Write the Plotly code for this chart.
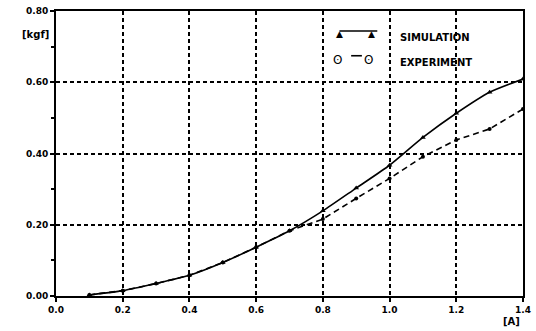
import plotly.graph_objects as go

current = [0.1, 0.2, 0.3, 0.4, 0.5, 0.6, 0.7, 0.8, 0.9, 1.0, 1.1, 1.2, 1.3, 1.4]
simulation = [0.003, 0.015, 0.035, 0.058, 0.094, 0.137, 0.183, 0.239, 0.303, 0.367, 0.445, 0.513, 0.572, 0.609]
experiment = [0.003, 0.015, 0.035, 0.058, 0.094, 0.137, 0.183, 0.216, 0.274, 0.330, 0.391, 0.438, 0.469, 0.525]

x_ticks = [0.0, 0.2, 0.4, 0.6, 0.8, 1.0, 1.2, 1.4]
x_labels = ["0.0", "0.2", "0.4", "0.6", "0.8", "1.0", "1.2", "1.4"]
y_ticks = [0.0, 0.2, 0.4, 0.6, 0.8]
y_labels = ["0.00", "0.20", "0.40", "0.60", "0.80"]

FONT = "DejaVu Sans"

fig = go.Figure()
fig.add_trace(go.Scatter(
    x=current, y=simulation, mode="lines+markers", name="SIMULATION",
    line=dict(color="black", width=1.6, shape="spline", smoothing=0.6),
    marker=dict(symbol="triangle-up", size=5, color="black"),
    showlegend=False,
))
fig.add_trace(go.Scatter(
    x=current, y=experiment, mode="lines+markers", name="EXPERIMENT",
    line=dict(color="black", width=1.6, dash="6px,4px"),
    marker=dict(symbol="circle", size=4, color="black"),
    showlegend=False,
))

axis_common = dict(
    showline=True, linecolor="black", linewidth=2, mirror=True, automargin=False,
    showgrid=True, gridcolor="black", gridwidth=1.5, griddash="4px,3px",
    zeroline=False, ticks="outside", ticklen=4, tickwidth=1.5, tickcolor="black",
    tickfont=dict(family=FONT, size=9, color="black", weight="bold"),
)

fig.update_xaxes(range=[0, 1.4], tickvals=x_ticks, ticktext=x_labels, **axis_common)
fig.update_yaxes(range=[0, 0.8], tickvals=y_ticks, ticktext=y_labels,
                 minor=dict(dtick=0.1, ticks="outside", ticklen=3, tickcolor="black", showgrid=False),
                 **axis_common)

# manual legend
leg_y = [0.93, 0.843]
fig.add_shape(type="line", xref="paper", yref="paper", x0=0.607, x1=0.688, y0=leg_y[0], y1=leg_y[0],
              line=dict(color="black", width=1.6))
fig.add_shape(type="line", xref="paper", yref="paper", x0=0.632, x1=0.655, y0=leg_y[1], y1=leg_y[1],
              line=dict(color="black", width=1.6))
for xp in (0.607, 0.688):
    fig.add_annotation(xref="paper", yref="paper", x=xp, y=leg_y[0], text="▲", showarrow=False,
                       yshift=4, font=dict(family=FONT, size=9, color="black"))
for xp in (0.602, 0.683):
    fig.add_annotation(xref="paper", yref="paper", x=xp, y=leg_y[1], text="ʘ", showarrow=False,
                       yshift=5, font=dict(family=FONT, size=12, color="black"))
fig.add_annotation(xref="paper", yref="paper", x=0.732, y=leg_y[0], text="SIMULATION", showarrow=False,
                   xanchor="left", yshift=1, font=dict(family=FONT, size=10, color="black", weight="bold"))
fig.add_annotation(xref="paper", yref="paper", x=0.732, y=leg_y[1], text="EXPERIMENT", showarrow=False,
                   xanchor="left", yshift=1, font=dict(family=FONT, size=10, color="black", weight="bold"))

# axis unit labels
fig.add_annotation(xref="paper", yref="paper", x=-0.01, y=0.945, text="[kgf]", showarrow=False,
                   xanchor="right", font=dict(family=FONT, size=10, color="black", weight="bold"))
fig.add_annotation(xref="paper", yref="paper", x=0.975, y=-0.09, text="[A]", showarrow=False,
                   xanchor="center", yanchor="middle", font=dict(family=FONT, size=10, color="black", weight="bold"))

fig.update_layout(
    width=536, height=331,
    margin=dict(l=56, r=13, t=11, b=35),
    paper_bgcolor="white", plot_bgcolor="white",
)

fig.write_html("out.html", config={"displayModeBar": False},
               post_script="document.body.style.margin='0';document.body.style.overflow='hidden';")
